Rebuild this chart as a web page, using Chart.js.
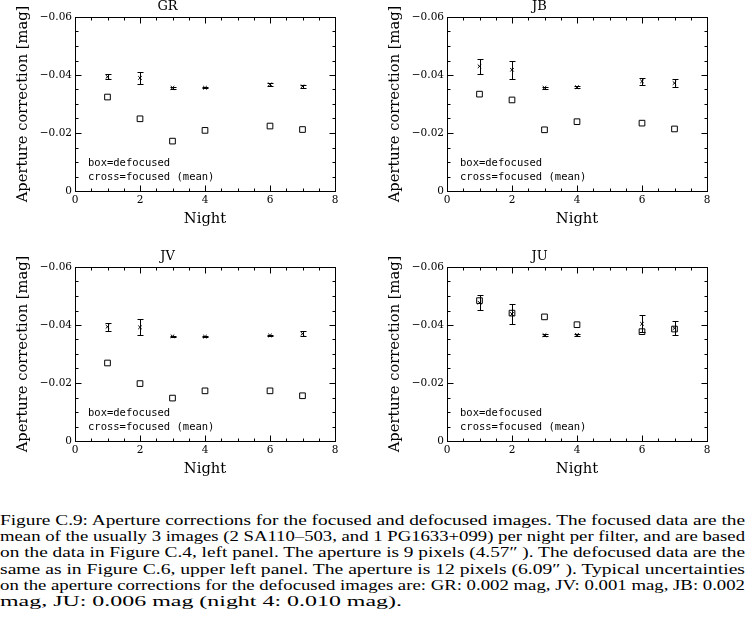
<!DOCTYPE html>
<html>
<head>
<meta charset="utf-8">
<script src="https://cdn.jsdelivr.net/npm/chart.js@4.4.0/dist/chart.umd.min.js"></script>
<style>
  body { margin: 0; background: #fff; width: 745px; height: 639px; position: relative; overflow: hidden; }
  canvas { position: absolute; }
  #caption { position: absolute; left: 0; top: 513px; width: 745px; font-family: "Liberation Serif", serif; font-size: 14px; line-height: 16.2px; color: #000; }
  #caption div { white-space: nowrap; }
  #caption span { display: inline-block; transform-origin: 0 0; }
</style>
</head>
<body>
<canvas id="chartGR" width="372" height="250" style="left:0;top:0"></canvas>
<canvas id="chartJB" width="372" height="250" style="left:372px;top:0"></canvas>
<canvas id="chartJV" width="372" height="250" style="left:0;top:250px"></canvas>
<canvas id="chartJU" width="372" height="250" style="left:372px;top:250px"></canvas>

<div id="caption">
  <div><span data-w="745">Figure C.9: Aperture corrections for the focused and defocused images. The focused data are the</span></div>
  <div><span data-w="745">mean of the usually 3 images (2 SA110–503, and 1 PG1633+099) per night per filter, and are based</span></div>
  <div><span data-w="745">on the data in Figure C.4, left panel. The aperture is 9 pixels (4.57″ ). The defocused data are the</span></div>
  <div><span data-w="745">same as in Figure C.6, upper left panel. The aperture is 12 pixels (6.09″ ). Typical uncertainties</span></div>
  <div><span data-w="745">on the aperture corrections for the defocused images are: GR: 0.002 mag, JV: 0.001 mag, JB: 0.002</span></div>
  <div><span data-w="402">mag, JU: 0.006 mag (night 4: 0.010 mag).</span></div>
</div>

<script>
// 観測夜
const nights = [1, 2, 3, 4, 6, 7];

// GR
const grFocused    = [-0.0394, -0.0390, -0.0356, -0.0356, -0.0368, -0.0361];
const grFocusedErr = [0.0008, 0.0021, 0.0003, 0.0002, 0.0005, 0.0005];
const grDefocused  = [-0.0324, -0.0249, -0.0172, -0.0209, -0.0224, -0.0212];

// JB
const jbFocused    = [-0.0430, -0.0418, -0.0356, -0.0358, -0.0378, -0.0372];
const jbFocusedErr = [0.0025, 0.0032, 0.0003, 0.0004, 0.0012, 0.0014];
const jbDefocused  = [-0.0334, -0.0314, -0.0211, -0.0239, -0.0234, -0.0214];

// JV
const jvFocused    = [-0.0394, -0.0392, -0.0361, -0.0360, -0.0364, -0.0370];
const jvFocusedErr = [0.0014, 0.0027, 0.0002, 0.0003, 0.0002, 0.0009];
const jvDefocused  = [-0.0269, -0.0198, -0.0148, -0.0173, -0.0173, -0.0156];

// JU
const juFocused    = [-0.0477, -0.0438, -0.0365, -0.0366, -0.0404, -0.0389];
const juFocusedErr = [0.0025, 0.0034, 0.0003, 0.0003, 0.0029, 0.0025];
const juDefocused  = [-0.0484, -0.0441, -0.0428, -0.0401, -0.0377, -0.0386];

const legendLines = ['box=defocused', 'cross=focused (mean)'];
const xTitle = 'Night';
const yTitle = 'Aperture correction [mag]';

const axisFont = { family: 'DejaVu Serif', size: 10.5 };
const titleFont = { family: 'DejaVu Serif', size: 14.7, lineHeight: 1.2 };

// 枠と内向きの目盛り
const frameTicks = {
    id: 'frameTicks',
    beforeDatasetsDraw(chart) {
        const { ctx, chartArea, scales } = chart;
        const { left, right, top, bottom } = chartArea;
        ctx.save();
        ctx.strokeStyle = '#000';
        ctx.lineWidth = 1;
        const L = Math.round(left) + 0.5, R = Math.round(right) + 0.5;
        const T = Math.round(top) + 0.5, B = Math.round(bottom) + 0.5;
        ctx.strokeRect(L, T, R - L, B - T);
        ctx.beginPath();
        for (let k = 0; k <= 16; k++) {
            const px = Math.round(scales.x.getPixelForValue(k * 0.5)) + 0.5;
            const len = k % 4 === 0 ? 6 : 3;
            ctx.moveTo(px, B); ctx.lineTo(px, B - len);
            ctx.moveTo(px, T); ctx.lineTo(px, T + len);
        }
        for (let k = 0; k <= 12; k++) {
            const py = Math.round(scales.y.getPixelForValue(-k * 0.005)) + 0.5;
            const len = k % 4 === 0 ? 6 : 3;
            ctx.moveTo(L, py); ctx.lineTo(L + len, py);
            ctx.moveTo(R, py); ctx.lineTo(R - len, py);
        }
        ctx.stroke();
        ctx.restore();
    }
};

// エラーバー
const errorBars = {
    id: 'errorBars',
    afterDatasetsDraw(chart) {
        const { ctx, scales } = chart;
        ctx.save();
        ctx.strokeStyle = '#000';
        ctx.lineWidth = 1;
        chart.data.datasets.forEach(ds => {
            if (!ds.errors) return;
            ds.data.forEach((p, i) => {
                const err = ds.errors[i];
                const px = Math.round(scales.x.getPixelForValue(p.x)) + 0.5;
                const y1 = Math.round(scales.y.getPixelForValue(p.y - err)) + 0.5;
                const y2 = Math.round(scales.y.getPixelForValue(p.y + err)) + 0.5;
                ctx.beginPath();
                ctx.moveTo(px, y1); ctx.lineTo(px, y2);
                ctx.moveTo(px - 3, y1); ctx.lineTo(px + 3, y1);
                ctx.moveTo(px - 3, y2); ctx.lineTo(px + 3, y2);
                ctx.stroke();
            });
        });
        ctx.restore();
    }
};

// 凡例テキスト
const noteText = {
    id: 'noteText',
    afterDraw(chart) {
        const { ctx, chartArea } = chart;
        ctx.save();
        ctx.fillStyle = '#000';
        ctx.font = '10.5px "DejaVu Sans Mono"';
        ctx.textBaseline = 'alphabetic';
        ctx.fillText(legendLines[0], chartArea.left + 13, chartArea.bottom - 25);
        ctx.fillText(legendLines[1], chartArea.left + 13, chartArea.bottom - 11);
        ctx.restore();
    }
};

function formatY(v) {
    if (Math.abs(v) < 1e-9) return '0';
    return '\u2212' + Math.abs(v).toFixed(2);
}

function makeChart(id, title, focused, focusedErr, defocused) {
    const chartContext = document.getElementById(id);
    return new Chart(chartContext, {
        type: 'scatter',
        data: {
            datasets: [
                {
                    label: 'defocused',
                    data: nights.map((n, i) => ({ x: n, y: defocused[i] })),
                    pointStyle: 'rect',
                    pointRadius: 4,
                    borderColor: '#000',
                    backgroundColor: 'rgba(0,0,0,0)',
                    borderWidth: 1
                },
                {
                    label: 'focused',
                    data: nights.map((n, i) => ({ x: n, y: focused[i] })),
                    errors: focusedErr,
                    pointStyle: 'crossRot',
                    pointRadius: 2.5,
                    borderColor: '#000',
                    borderWidth: 1
                }
            ]
        },
        options: {
            responsive: false,
            animation: false,
            events: [],
            layout: { padding: { left: 0, right: 37, top: 0, bottom: 0 } },
            plugins: {
                legend: { display: false },
                tooltip: { enabled: false },
                title: {
                    display: true,
                    text: title,
                    color: '#000',
                    font: { family: 'DejaVu Serif', size: 13, lineHeight: 1, weight: 'normal' },
                    padding: { top: 0, bottom: 4 }
                }
            },
            scales: {
                x: {
                    type: 'linear',
                    min: 0,
                    max: 8,
                    ticks: { stepSize: 2, color: '#000', font: axisFont, padding: 3, maxRotation: 0 },
                    grid: { display: false, drawTicks: false, tickLength: 0 },
                    border: { display: false },
                    title: { display: true, text: xTitle, color: '#000', font: titleFont, padding: { top: 0, bottom: 22 } },
                    afterFit(scale) { scale.height = 59; }
                },
                y: {
                    type: 'linear',
                    min: -0.06,
                    max: 0,
                    reverse: true,
                    ticks: { stepSize: 0.02, color: '#000', font: axisFont, padding: 3, callback: formatY },
                    grid: { display: false, drawTicks: false, tickLength: 0 },
                    border: { display: false },
                    title: { display: true, text: yTitle, color: '#000', font: titleFont, padding: { top: 14, bottom: 0 } },
                    afterFit(scale) { scale.width = 75; }
                }
            }
        },
        plugins: [frameTicks, errorBars, noteText]
    });
}

makeChart('chartGR', 'GR', grFocused, grFocusedErr, grDefocused);
makeChart('chartJB', 'JB', jbFocused, jbFocusedErr, jbDefocused);
makeChart('chartJV', 'JV', jvFocused, jvFocusedErr, jvDefocused);
makeChart('chartJU', 'JU', juFocused, juFocusedErr, juDefocused);

// キャプション各行を目標幅に伸ばす
document.querySelectorAll('#caption span').forEach(span => {
    const target = Number(span.dataset.w);
    const s = target / span.getBoundingClientRect().width;
    span.style.transform = `scaleX(${s})`;
});
</script>
</body>
</html>
